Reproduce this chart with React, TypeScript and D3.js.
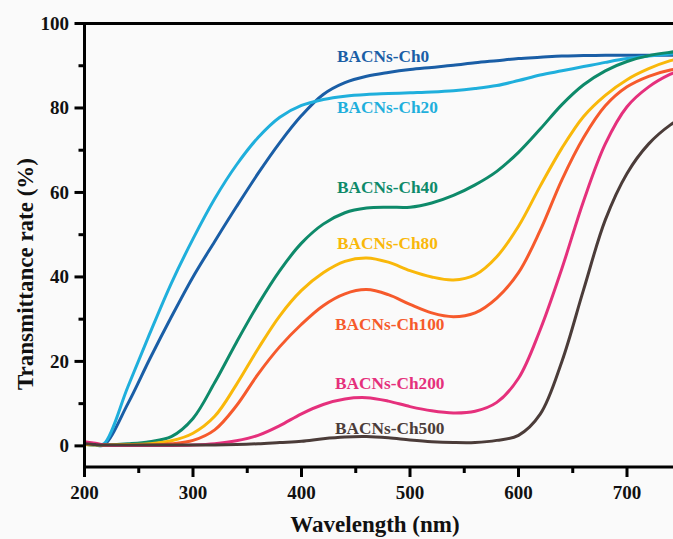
import React from "react";
import * as d3 from "d3";

const wavelengths = [200, 210, 218, 240, 260, 280, 300, 320, 340, 360, 380, 400, 420, 440, 460, 480, 500, 520, 540, 560, 580, 600, 620, 640, 660, 680, 700, 720, 740, 750];

const ch0 = [0.4, 0.2, 0.2, 10, 20.5, 30.5, 40, 48.4, 56.6, 64.5, 71.8, 78.2, 83.2, 86, 87.5, 88.4, 89.1, 89.6, 90.1, 90.7, 91.2, 91.7, 92, 92.3, 92.4, 92.5, 92.5, 92.5, 92.5, 92.5];
const ch20 = [0.4, 0.2, 0.5, 14, 26.5, 38.5, 49, 58.5, 66.5, 73, 77.8, 80.6, 82, 82.8, 83.2, 83.4, 83.6, 83.8, 84.1, 84.6, 85.3, 86.5, 87.8, 88.8, 89.8, 90.8, 91.7, 92.3, 92.8, 93];
const ch40 = [0.4, 0.3, 0.2, 0.5, 1.0, 2.2, 6.5, 15, 24.5, 33.5, 41.5, 48, 52.5, 55.2, 56.3, 56.5, 56.5, 57.5, 59.3, 61.8, 65, 69.5, 75, 80.8, 85.5, 88.8, 91, 92.4, 93.2, 93.5];
const ch80 = [0.3, 0.2, 0.2, 0.3, 0.5, 1.2, 3, 7, 14.5, 23, 30.8, 36.8, 41, 43.7, 44.5, 43.5, 41.5, 40, 39.3, 40.5, 44.8, 52, 61.5, 70.5, 78, 83, 86.7, 89.3, 91.2, 91.8];
const ch100 = [0.8, 0.5, 0.2, 0.1, 0.2, 0.5, 1.3, 3.8, 9.5, 17, 23.5, 28.8, 33.2, 36, 37, 35.8, 33.5, 31.5, 30.6, 31.5, 35, 41, 51, 63, 73, 80.5, 85, 87.5, 89, 89.3];
const ch200 = [1, 0.6, 0.2, 0.1, 0.1, 0.1, 0.2, 0.5, 1.2, 2.5, 4.8, 7.6, 9.8, 11.1, 11.4, 10.6, 9.3, 8.3, 7.8, 8.2, 10.3, 16, 27.5, 42, 58, 71.5, 80.3, 85, 88, 89];
const ch500 = [0.5, 0.3, 0.2, 0.2, 0.2, 0.2, 0.2, 0.2, 0.3, 0.5, 0.8, 1.1, 1.7, 2.1, 2.2, 1.9, 1.4, 1.0, 0.8, 0.8, 1.3, 2.5, 7.5, 20, 37, 53.5, 64.5, 71.5, 76, 77.5];

const seriesNames = ["BACNs-Ch0", "BACNs-Ch20", "BACNs-Ch40", "BACNs-Ch80", "BACNs-Ch100", "BACNs-Ch200", "BACNs-Ch500"];
const seriesValues = [ch0, ch20, ch40, ch80, ch100, ch200, ch500];
const seriesColors = ["#1a5ea6", "#1fafdc", "#0e8a6a", "#f9b80a", "#f65a2c", "#e5307c", "#4b3c39"];
// label anchor positions in data units (wavelength, transmittance) - text baseline start
const labelPos: [number, number][] = [[432.7, 90.9], [432.7, 78.7], [432.7, 59.8], [432.7, 46.5], [430.9, 27.4], [430.9, 13.4], [430.9, 2.8]];

const xMajor = [200, 300, 400, 500, 600, 700];
const xMinor = [250, 350, 450, 550, 650, 750];
const yMajor = [0, 20, 40, 60, 80, 100];
const yMinor = [10, 30, 50, 70, 90];

const W = 673;
const H = 539;
const FONT = "'Liberation Serif', 'Times New Roman', serif";

export default function App() {
  const x = d3.scaleLinear().domain([200, 750]).range([84.5, 681.25]);
  const y = d3.scaleLinear().domain([-5, 100]).range([467, 23.5]);
  const line = d3
    .line<[number, number]>()
    .x((d) => x(d[0]))
    .y((d) => y(d[1]))
    .curve(d3.curveCatmullRom.alpha(0.5));

  const x0 = x(200);
  const x1 = x(750);
  const yb = y(-5);
  const yt = y(100);

  return (
    <svg
      width={W}
      height={H}
      style={{ position: "absolute", left: 0, top: 0, background: "#fafafa" }}
      fontFamily={FONT}
    >
      <rect x={0} y={0} width={W} height={H} fill="#fafafa" />
      <defs>
        <clipPath id="plotclip">
          <rect x={x0} y={yt} width={x1 - x0} height={yb - yt} />
        </clipPath>
      </defs>
      <g clipPath="url(#plotclip)">
        {seriesValues.map((vals, i) => (
          <path
            key={seriesNames[i]}
            d={line(wavelengths.map((w, j) => [w, vals[j]] as [number, number])) || ""}
            fill="none"
            stroke={seriesColors[i]}
            strokeWidth={3}
            strokeLinejoin="round"
          />
        ))}
      </g>
      {/* frame */}
      <line x1={x0} x2={x0} y1={yt - 1.5} y2={yb + 1.5} stroke="#000" strokeWidth={3} />
      <line x1={x0} x2={x1} y1={yb} y2={yb} stroke="#000" strokeWidth={3} />
      <line x1={x0} x2={x1} y1={yt} y2={yt} stroke="#000" strokeWidth={3} />
      <line x1={x1} x2={x1} y1={yt} y2={yb} stroke="#000" strokeWidth={3} />
      {/* x ticks */}
      {xMajor.map((t) => (
        <g key={"xM" + t}>
          <line x1={x(t)} x2={x(t)} y1={yb} y2={yb + 10} stroke="#000" strokeWidth={3} />
          <text x={x(t)} y={499} textAnchor="middle" fontSize={19} fontWeight="bold" fill="#111">
            {t}
          </text>
        </g>
      ))}
      {xMinor.map((t) => (
        <line key={"xm" + t} x1={x(t)} x2={x(t)} y1={yb} y2={yb + 6} stroke="#000" strokeWidth={3} />
      ))}
      {/* y ticks */}
      {yMajor.map((t) => (
        <g key={"yM" + t}>
          <line x1={x0 - 10} x2={x0} y1={y(t)} y2={y(t)} stroke="#000" strokeWidth={3} />
          <text x={69} y={y(t) + 6.5} textAnchor="end" fontSize={19} fontWeight="bold" fill="#111">
            {t}
          </text>
        </g>
      ))}
      {yMinor.map((t) => (
        <line key={"ym" + t} x1={x0 - 6} x2={x0} y1={y(t)} y2={y(t)} stroke="#000" strokeWidth={3} />
      ))}
      {/* axis titles */}
      <text x={375} y={532} textAnchor="middle" fontSize={23} fontWeight="bold" fill="#111">
        Wavelength (nm)
      </text>
      <text
        transform={`translate(33, 274) rotate(-90)`}
        textAnchor="middle"
        fontSize={23}
        fontWeight="bold"
        fill="#111"
      >
        Transmittance rate (%)
      </text>
      {/* series labels */}
      {seriesNames.map((n, i) => (
        <text
          key={"lab" + n}
          x={x(labelPos[i][0])}
          y={y(labelPos[i][1])}
          fontSize={17.3}
          fontWeight="bold"
          fill={seriesColors[i]}
        >
          {n}
        </text>
      ))}
    </svg>
  );
}
